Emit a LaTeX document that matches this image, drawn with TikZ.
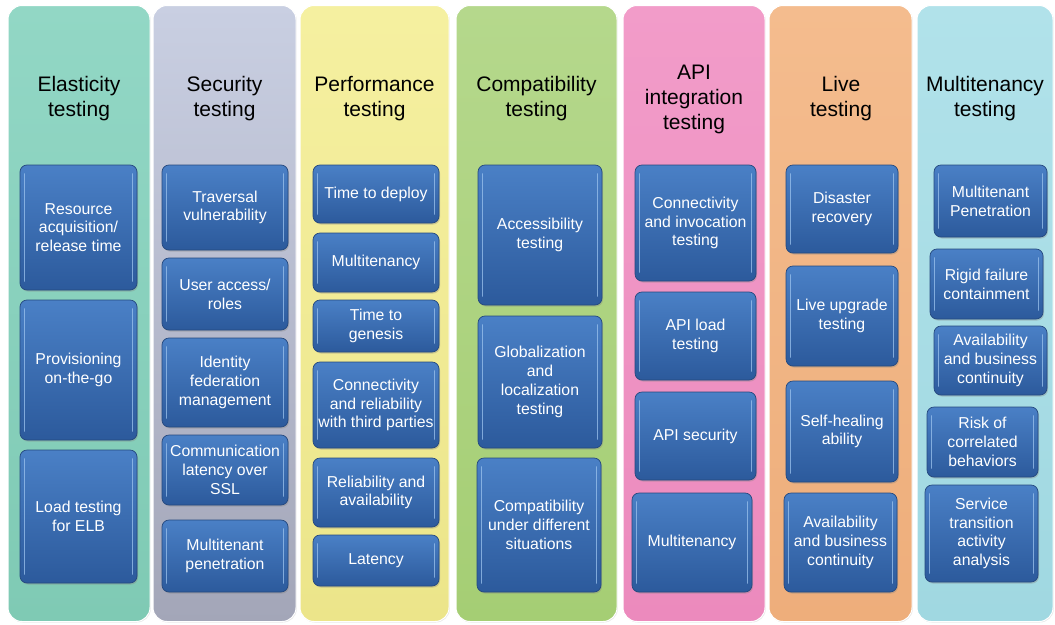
\documentclass[tikz,border=0pt]{standalone}
\usepackage{fontspec}
\setmainfont{Liberation Sans}
\usetikzlibrary{shadows}

\definecolor{boxtop}{HTML}{4A80C6}
\definecolor{boxbot}{HTML}{2C5A9C}
\definecolor{boxedge}{HTML}{25497F}
\definecolor{boxhi}{HTML}{9CC3EE}
\definecolor{c1t}{HTML}{92D7C5}\definecolor{c1b}{HTML}{7FCAB4}
\definecolor{c2t}{HTML}{C9CFE2}\definecolor{c2b}{HTML}{A3A6B8}
\definecolor{c3t}{HTML}{F5F0A0}\definecolor{c3b}{HTML}{ECE58A}
\definecolor{c4t}{HTML}{B5D88C}\definecolor{c4b}{HTML}{A5CE74}
\definecolor{c5t}{HTML}{F29CC9}\definecolor{c5b}{HTML}{EC8ABD}
\definecolor{c6t}{HTML}{F4BC8E}\definecolor{c6b}{HTML}{EEAE7B}
\definecolor{c7t}{HTML}{B1E2EA}\definecolor{c7b}{HTML}{A0D8E1}

\tikzset{
  colbox/.style={rounded corners=14pt, draw=white, line width=1pt, inner sep=0pt,
    drop shadow={opacity=0.18, shadow xshift=0.8pt, shadow yshift=-1pt}},
  tbox/.style={rounded corners=7pt, draw=boxedge, line width=0.7pt,
    top color=boxtop, bottom color=boxbot, text=white, align=center,
    font=\fontsize{15.8}{18.8}\selectfont, inner sep=1pt,
    drop shadow={opacity=0.35, shadow xshift=1pt, shadow yshift=-1.5pt},
    path picture={
      \draw[boxhi, opacity=0.75, line width=1.6pt, line cap=round]
        ([xshift=4.5pt,yshift=-9pt]path picture bounding box.north west) --
        ([xshift=4.5pt,yshift=9pt]path picture bounding box.south west);
      \draw[boxhi, opacity=0.75, line width=1.6pt, line cap=round]
        ([xshift=-4.5pt,yshift=-9pt]path picture bounding box.north east) --
        ([xshift=-4.5pt,yshift=9pt]path picture bounding box.south east);
    }},
  ttl/.style={align=center, font=\fontsize{21}{25}\selectfont, text=black, inner sep=0pt}
}

\newcommand{\bx}[6]{\node[tbox, minimum width={(#4-#2)*1pt}, minimum height={(#5-#3)*1pt}] (#1) at ({(#2+#4)/2},{(#3+#5)/2}) {#6};}
\newcommand{\colbg}[6]{\node[colbox, top color=#5, bottom color=#6, minimum width={(#4-#2)*1pt}, minimum height={(#3)*1pt}] (#1) at ({(#2+#4)/2},313.5) {};}

\begin{document}
\begin{tikzpicture}[x=1pt,y=-1pt]
\useasboundingbox (0,0) rectangle (1055,624);
\fill[white] (0,0) rectangle (1055,624);

% columns
\colbg{col1}{8}{616}{150}{c1t}{c1b}
\colbg{col2}{153}{616}{296}{c2t}{c2b}
\colbg{col3}{300}{616}{449}{c3t}{c3b}
\colbg{col4}{456}{616}{617}{c4t}{c4b}
\colbg{col5}{623}{616}{765}{c5t}{c5b}
\colbg{col6}{769}{616}{912}{c6t}{c6b}
\colbg{col7}{917}{616}{1053}{c7t}{c7b}

% titles
\node[ttl] (t1) at (79,99) {Elasticity\\testing};
\node[ttl] (t2) at (224.5,99) {Security\\testing};
\node[ttl] (t3) at (374.5,99) {Performance\\testing};
\node[ttl] (t4) at (536.5,99) {Compatibility\\testing};
\node[ttl] (t5) at (694,99) {API\\integration\\testing};
\node[ttl] (t6) at (841,99) {Live\\testing};
\node[ttl] (t7) at (985,99) {Multitenancy\\testing};

% Elasticity
\bx{e1}{20}{165}{137}{290}{Resource\\acquisition/\\release time}
\bx{e2}{20}{300}{137}{440}{Provisioning\\on-the-go}
\bx{e3}{20}{450}{137}{583}{Load testing\\for ELB}

% Security
\bx{s1}{162}{165}{288}{250}{Traversal\\vulnerability}
\bx{s2}{162}{258}{288}{330}{User access/\\roles}
\bx{s3}{162}{338}{288}{427}{Identity\\federation\\management}
\bx{s4}{162}{435}{288}{505}{Communication\\latency over\\SSL}
\bx{s5}{162}{520}{288}{592}{Multitenant\\penetration}

% Performance
\bx{p1}{313}{165}{439}{223}{Time to deploy}
\bx{p2}{313}{233}{439}{292}{Multitenancy}
\bx{p3}{313}{300}{439}{352}{Time to\\genesis}
\bx{p4}{313}{362}{439}{448}{Connectivity\\and reliability\\with third parties}
\bx{p5}{313}{458}{439}{527}{Reliability and\\availability}
\bx{p6}{313}{535}{439}{586}{Latency}

% Compatibility
\bx{c1}{478}{165}{602}{305}{Accessibility\\testing}
\bx{c2}{478}{316}{602}{448}{Globalization\\and\\localization\\testing}
\bx{c3}{477}{458}{601}{592}{Compatibility\\under different\\situations}

% API
\bx{a1}{635}{165}{756}{281}{Connectivity\\and invocation\\testing}
\bx{a2}{635}{292}{756}{380}{API load\\testing}
\bx{a3}{635}{392}{756}{480}{API security}
\bx{a4}{632}{493}{752}{592}{Multitenancy}

% Live
\bx{l1}{786}{165}{898}{253}{Disaster\\recovery}
\bx{l2}{786}{266}{898}{366}{Live upgrade\\testing}
\bx{l3}{786}{381}{898}{482}{Self-healing\\ability}
\bx{l4}{784}{493}{897}{592}{Availability\\and business\\continuity}

% Multitenancy
\bx{m1}{934}{165}{1047}{237}{Multitenant\\Penetration}
\bx{m2}{930}{249}{1043}{319}{Rigid failure\\containment}
\bx{m3}{934}{326}{1047}{395}{Availability\\and business\\continuity}
\bx{m4}{927}{407}{1038}{477}{Risk of\\correlated\\behaviors}
\bx{m5}{925}{485}{1038}{582}{Service\\transition\\activity\\analysis}
\end{tikzpicture}
\end{document}
